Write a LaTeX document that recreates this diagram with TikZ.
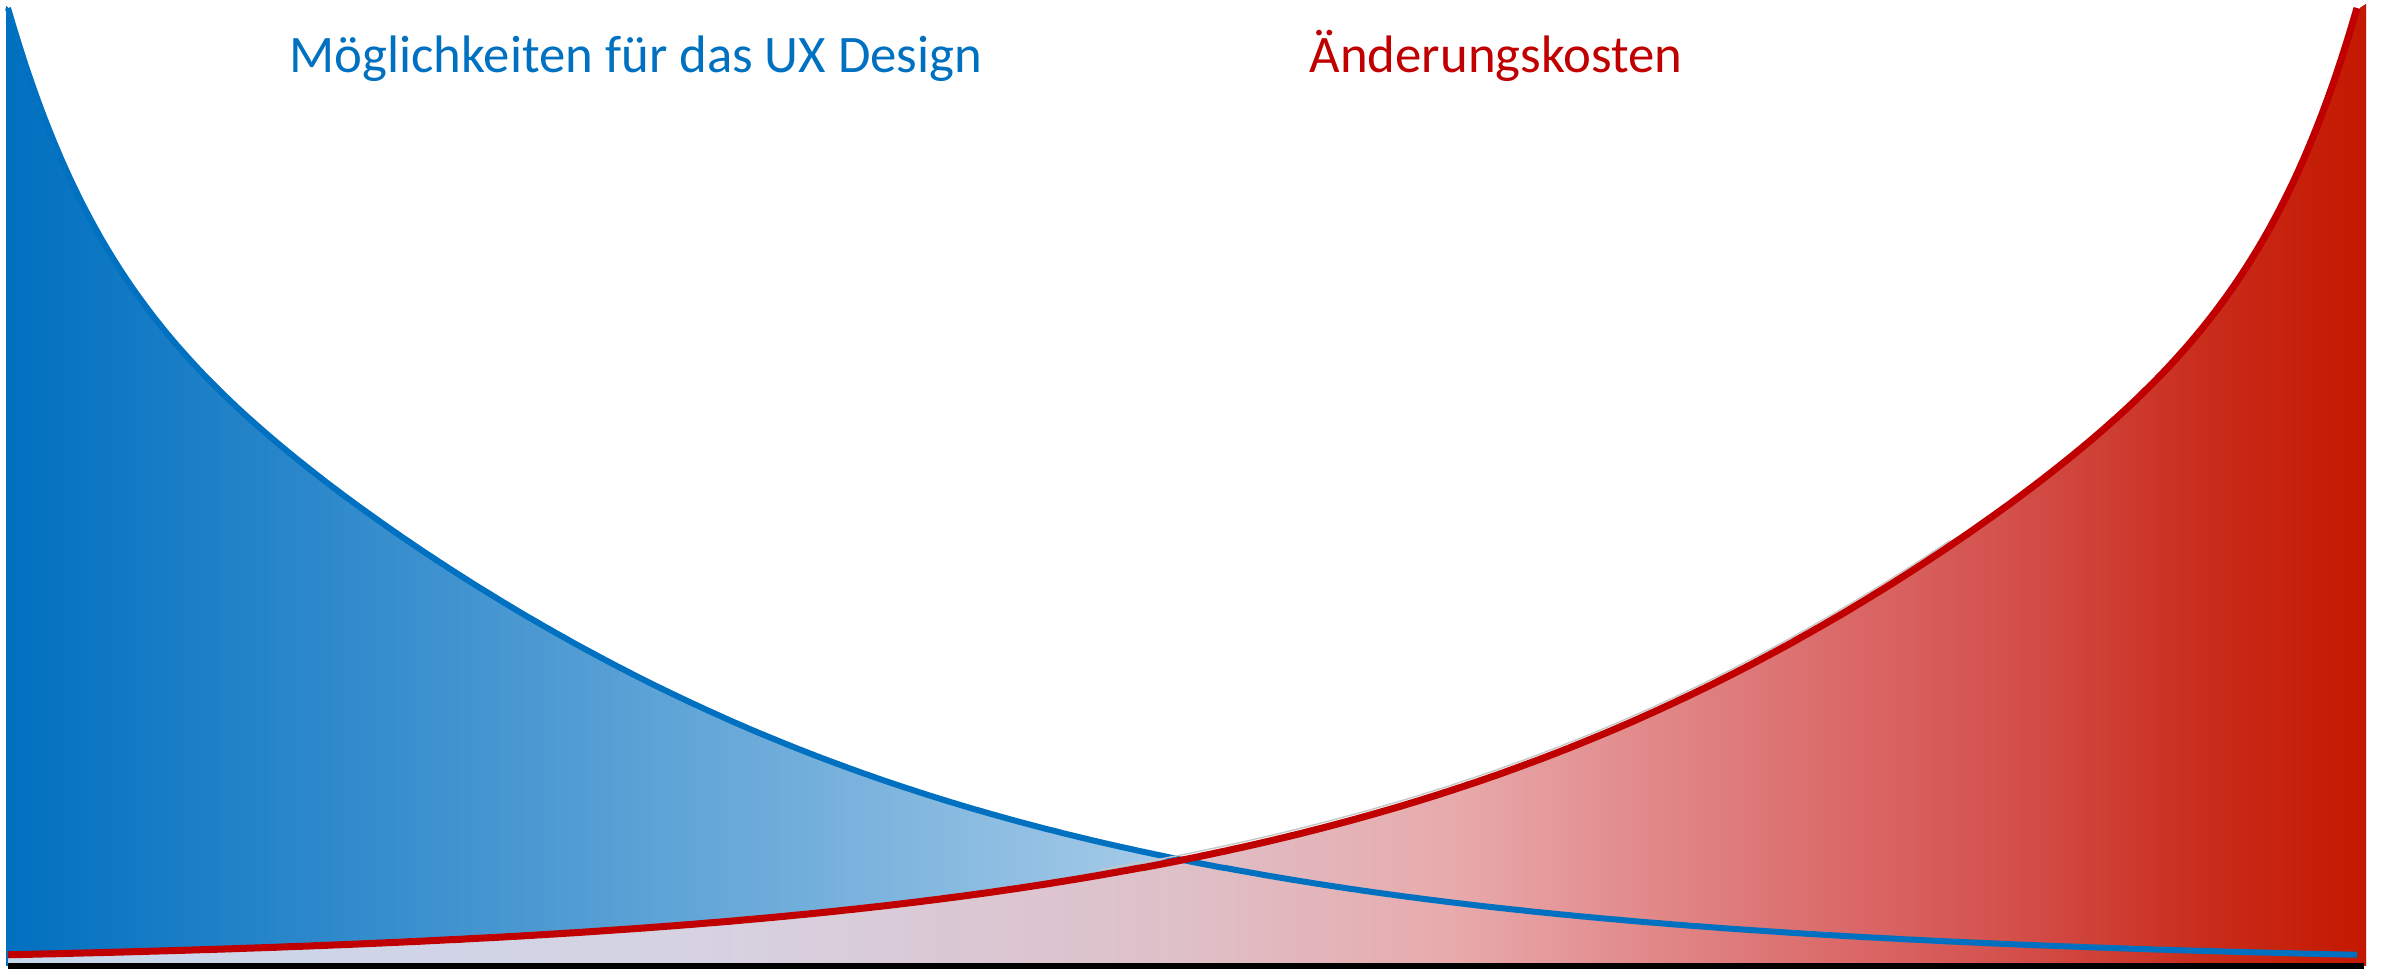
\documentclass[tikz,border=0pt]{standalone}
\usepackage{fontspec}
\setmainfont{Carlito}

\definecolor{uxblue}{RGB}{0,112,192}
\definecolor{costred}{RGB}{192,0,0}
\definecolor{blueB}{RGB}{168,204,232}
\definecolor{blueC}{RGB}{238,244,250}
\definecolor{redA}{RGB}{198,216,236}
\definecolor{redB}{RGB}{214,210,226}
\definecolor{redC}{RGB}{222,192,200}
\definecolor{redD}{RGB}{232,170,172}
\definecolor{redE}{RGB}{220,112,112}
\definecolor{redF}{RGB}{212,82,78}
\definecolor{redG}{RGB}{201,45,28}
\definecolor{redH}{RGB}{196,24,0}

\pgfdeclarehorizontalshading{uxshade}{100bp}{color(0bp)=(uxblue); color(25bp)=(uxblue); color(50bp)=(blueB); color(63bp)=(blueC); color(75bp)=(white); color(100bp)=(white)}
\pgfdeclarehorizontalshading{costshade}{100bp}{color(0bp)=(redA); color(25bp)=(redA); color(39.7bp)=(redB); color(49.9bp)=(redC); color(55.6bp)=(redD); color(63bp)=(redE); color(67.2bp)=(redF); color(71.5bp)=(redG); color(75bp)=(redH); color(100bp)=(redH)}

\begin{document}
\begin{tikzpicture}[x=0.01cm, y=-0.01cm,
  declare function={uxgap(\t)=1000*exp(-0.0019*\t)-(42+1.9*\t)*exp(-\t/135);},
  curvelabel/.style={anchor=base west, inner sep=0pt, font=\fontsize{15pt}{18pt}\selectfont}]
\useasboundingbox (0,0) rectangle (2384,971);
%\draw[help lines, color=gray!30] (0,0) grid[step=100] (2384,971);

% areas
\fill[shading=uxshade] (6,966) -- (6,6) -- plot[domain=8:2357, samples=400] (\x,{966-uxgap(\x-8)}) -- (2357,966) -- cycle;
\fill[shading=costshade] (8,966) -- plot[domain=8:2360, samples=400] (\x,{966-uxgap(2360-\x)}) -- (2366,4) -- (2366,966) -- cycle;

% curves
\draw[uxblue, line width=0.06cm] plot[domain=8:2357, samples=400] (\x,{966-uxgap(\x-8)});
\draw[gray!45, line width=0.4pt, yshift=1.5pt] plot[domain=1100:1950, samples=100] (\x,{966-uxgap(2357-\x)});
\draw[costred, line width=0.07cm] plot[domain=8:2357, samples=400] (\x,{966-uxgap(2357-\x)});

% baseline
\coordinate (base west) at (8,966);
\coordinate (base east) at (2364,966);
\draw[black, line width=0.06cm] (base west) -- (base east);

\node[curvelabel, text=uxblue] (uxlabel) at (289,73) {Möglichkeiten für das UX Design};
\node[curvelabel, text=costred] (costlabel) at (1309,73) {Änderungskosten};

\end{tikzpicture}
\end{document}
